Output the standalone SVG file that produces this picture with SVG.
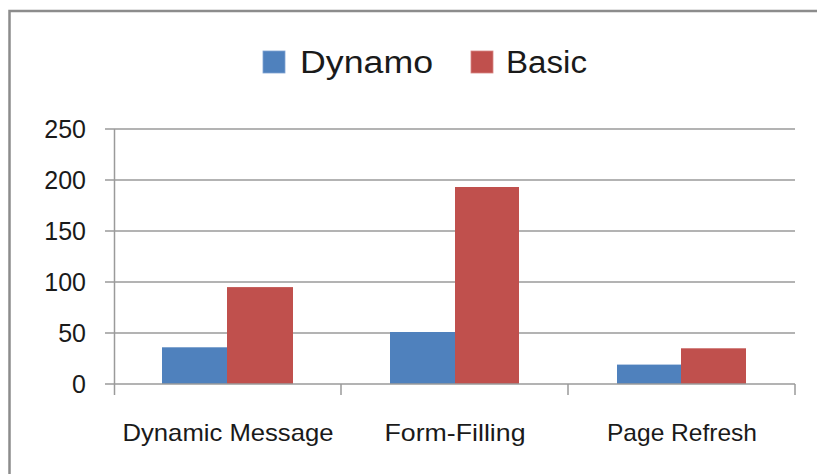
<svg xmlns="http://www.w3.org/2000/svg" width="817" height="474" viewBox="0 0 817 474">
<style>
text{font-family:"Liberation Sans",Arial,sans-serif;fill:#1a1a1a}
.grid{stroke:#9a9a9a;stroke-width:1.5;fill:none}
.frame{stroke:#8c8c8c;stroke-width:2.5;fill:none}
.dyn{fill:#4f81bd}
.bas{fill:#c0504d}
.ytick{font-size:25px;text-anchor:end}
.xlab{font-size:24px;text-anchor:middle}
.leg{font-size:31px}
</style>
<rect width="817" height="474" fill="#ffffff"/>
<path class="frame" d="M9.5,474 V11 H817"/>
<g id="gridlines">
<path class="grid" d="M105,129H795M105,180H795M105,231H795M105,282H795M105,333H795"/>
</g>
<g id="bars">
<rect class="dyn" x="162" y="347.3" width="65" height="36.7"/>
<rect class="bas" x="227" y="287.1" width="66" height="96.9"/>
<rect class="dyn" x="390" y="332" width="65" height="52"/>
<rect class="bas" x="455" y="187" width="64" height="197"/>
<rect class="dyn" x="617" y="364.6" width="64" height="19.4"/>
<rect class="bas" x="681" y="348.3" width="65" height="35.7"/>
</g>
<g id="axes">
<path class="grid" d="M105,384H795M114.5,129V395M341,384V395M568,384V395M795,384V395"/>
</g>
<g id="yaxis-labels">
<text class="ytick" x="86" y="138">250</text>
<text class="ytick" x="86" y="189">200</text>
<text class="ytick" x="86" y="240">150</text>
<text class="ytick" x="86" y="291">100</text>
<text class="ytick" x="86" y="342">50</text>
<text class="ytick" x="86" y="393">0</text>
</g>
<g id="xaxis-labels">
<text class="xlab" x="228" y="441" textLength="211" lengthAdjust="spacingAndGlyphs">Dynamic Message</text>
<text class="xlab" x="455" y="441" textLength="141" lengthAdjust="spacingAndGlyphs">Form-Filling</text>
<text class="xlab" x="682" y="441" textLength="150" lengthAdjust="spacingAndGlyphs">Page Refresh</text>
</g>
<g id="legend">
<g id="legend-dynamo">
<rect class="dyn" x="263" y="51" width="22" height="22" stroke="#7fa3d3" stroke-width="0.8"/>
<text class="leg" x="300" y="73" textLength="133" lengthAdjust="spacingAndGlyphs">Dynamo</text>
</g>
<g id="legend-basic">
<rect class="bas" x="471" y="51" width="22" height="22" stroke="#d88583" stroke-width="0.8"/>
<text class="leg" x="506" y="73" textLength="81" lengthAdjust="spacingAndGlyphs">Basic</text>
</g>
</g>
</svg>
